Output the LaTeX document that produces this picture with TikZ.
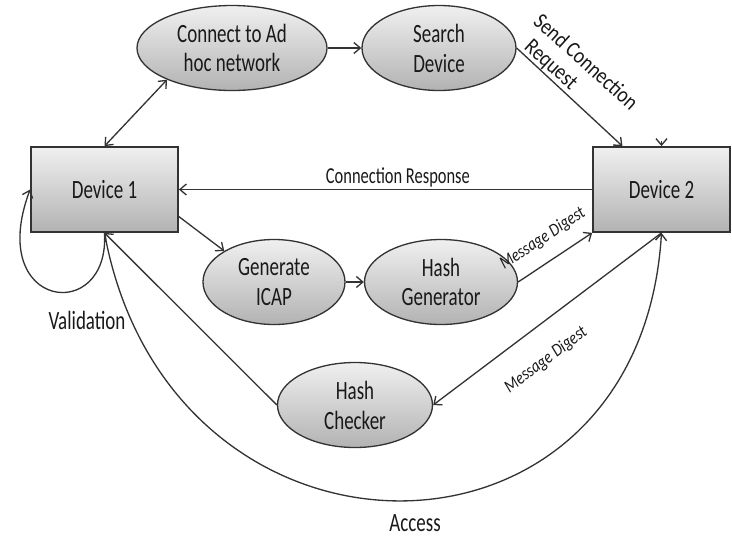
\documentclass[tikz,border=0pt]{standalone}
\usepackage{fontspec}
\setmainfont{Carlito}[FakeStretch=0.72]
\newfontfamily\tiltfont{Carlito}[FakeStretch=0.85]
\usetikzlibrary{shapes.geometric,arrows.meta}
\begin{document}
\begin{tikzpicture}[x=0.2mm, y=-0.2mm, line width=0.75pt,
   >={Straight Barb[length=1.3mm,width=2.2mm]},
   dev/.style={draw=black!80, line width=1pt, rectangle, minimum height=17mm,
      top color=gray!12, bottom color=gray!60, text=black!90,
      font=\fontsize{15}{17}\selectfont},
   proc/.style={draw=black!80, ellipse, inner sep=0pt, minimum height=17mm, align=center,
      top color=gray!12, bottom color=gray!60, text=black!90,
      font=\fontsize{15}{17}\selectfont},
   link/.style={draw=black!80, ->},
   lbl/.style={text=black!90, font=\fontsize{15}{17}\selectfont},
   md/.style={text=black!90, font=\tiltfont\itshape\fontsize{10.3}{11}\selectfont}]
   \useasboundingbox (0,0) rectangle (732,537);

   \node[dev, minimum width=29.4mm] (dev1) at (104.5,189.5) {Device 1};
   \node[dev, minimum width=27.4mm] (dev2) at (661.5,189.5) {Device 2};

   \foreach \nm/\px/\py/\w/\txt in {adhoc/232/48/38/{Connect to Ad\\hoc network},
      search/439/48/30.8/{Search\\Device}, gen/274/282/28.4/{Generate\\ICAP},
      hgen/441/282/30.6/{Hash\\Generator}, hchk/355/405/31/{Hash\\Checker}}
   \node[proc, minimum width=\w mm] (\nm) at (\px,\py) {\txt};

   \draw[<->, draw=black!80] (dev1.north) -- (adhoc.206);
   \draw[link] (adhoc.east) -- (search.west);
   \draw[link] (search.east) -- (dev2.132);
   \coordinate (stub) at (661.5,141);
   \draw[link] (stub) -- (dev2.north);
   \draw[link] (dev2.west) -- node[pos=.47, above, lbl, font=\fontsize{13}{14}\selectfont, inner sep=1pt] {Connection Response} (dev1.east);
   \draw[link] (dev1.-20) -- (gen.148);
   \draw[link] (gen.east) -- (hgen.west);
   \draw[link] (hgen.east) -- node[pos=.5, above, sloped, md, inner sep=8pt] {Message Digest} (dev2.south west);
   \draw[link] (dev2.south) -- (hchk.east);
   \draw[link] (hchk.west) -- (dev1.south);
   \draw[link] (dev1.south) .. controls (170,590) and (640,590) .. (dev2.south);
   \draw[link] (dev1.south) .. controls (110,325) and (-15,310) .. (dev1.west);

   \node[lbl] (val) at (87,320) {Validation};
   \node[lbl] (acc) at (415,523) {Access};
   \node[md, rotate=37] (md2) at (546,360) {Message Digest};
   \node[lbl, font=\tiltfont\fontsize{12.8}{14}\selectfont, rotate=-42, align=left] (send) at (577,72) {Send Connection\\\hspace*{2mm}Request};
\end{tikzpicture}
\end{document}
